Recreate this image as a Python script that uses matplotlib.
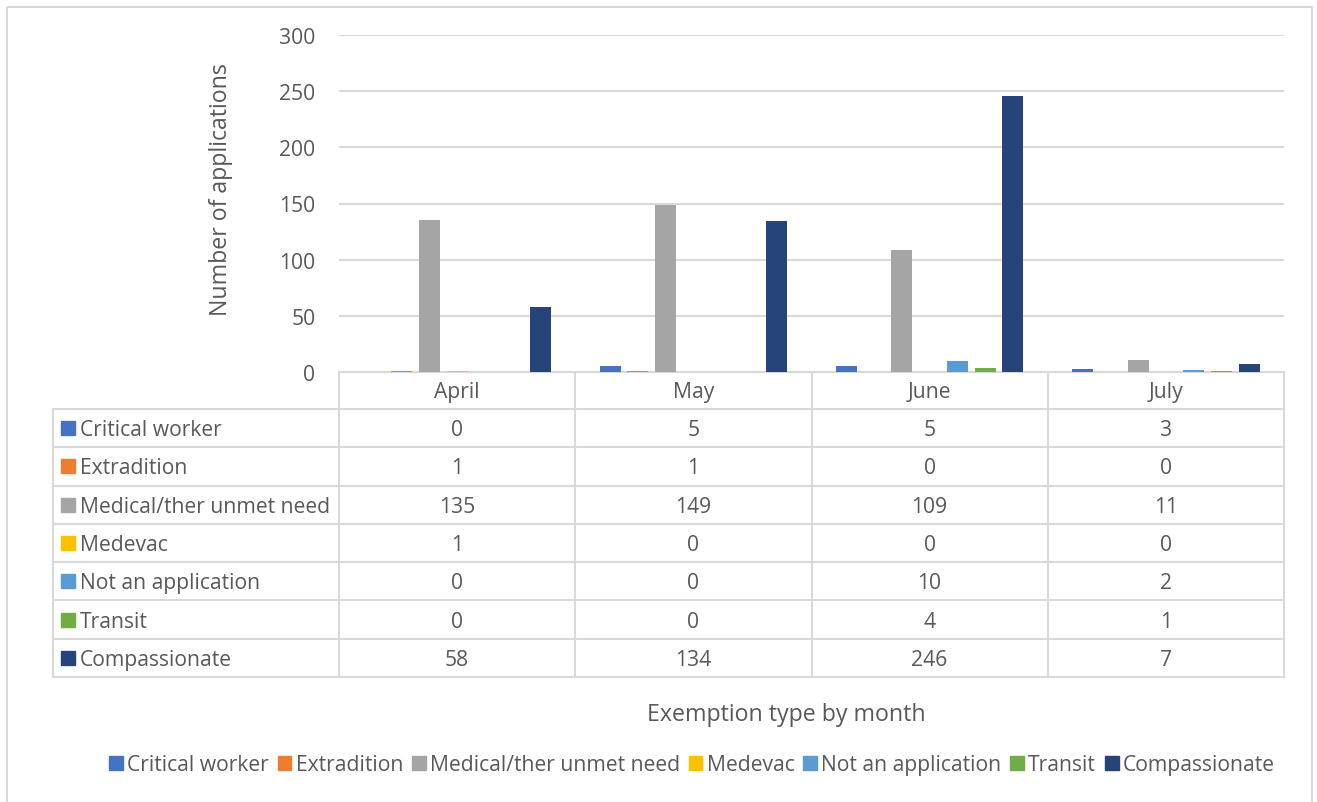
import numpy as np
import matplotlib.pyplot as plt
from matplotlib.patches import Rectangle

months = ["April", "May", "June", "July"]
series_names = ["Critical worker", "Extradition", "Medical/ther unmet need", "Medevac",
                "Not an application", "Transit", "Compassionate"]
critical = [0, 5, 5, 3]
extradition = [1, 1, 0, 0]
medical = [135, 149, 109, 11]
medevac = [1, 0, 0, 0]
not_app = [0, 0, 10, 2]
transit = [0, 0, 4, 1]
compassionate = [58, 134, 246, 7]
series = [critical, extradition, medical, medevac, not_app, transit, compassionate]
colors = ["#4472C4", "#ED7D31", "#A5A5A5", "#FFC000", "#5B9BD5", "#70AD47", "#264478"]

FONT = "Open Sans"
FS = 15.2
TXT = "#595959"
GRID = "#d9d9d9"
W, H = 1317, 803

plt.rcParams['font.family'] = [FONT, 'DejaVu Sans']

fig = plt.figure(figsize=(W / 100, H / 100), dpi=100)

# pixel layout (from reference)
px_left, px_right = 339, 1284
px_top, px_base = 36, 373
tab_left = 53
hdr_bot = 410
row_h = (678 - 410) / 7

# overlay axes in pixel coordinates for table / border
ov = fig.add_axes([0, 0, 1, 1])
ov.set_xlim(0, W)
ov.set_ylim(H, 0)
ov.axis("off")
ov.add_patch(Rectangle((6.5, 7.5), 1305.5, 810, fill=False, ec=GRID, lw=1.5))

ax = fig.add_axes([px_left / W, 1 - px_base / H, (px_right - px_left) / W, (px_base - px_top) / H])
n = len(series)
slot = 0.1175
bw = 0.089
x = np.arange(len(months))
for i, (vals, c) in enumerate(zip(series, colors)):
    ax.bar(x + (i - (n - 1) / 2) * slot, vals, width=bw, color=c, zorder=3)
ax.set_xlim(-0.5, len(months) - 0.5)
ax.set_ylim(0, 300)
ax.set_yticks(np.arange(0, 301, 50))
ax.set_xticks([])
ax.grid(axis="y", color=GRID, lw=1.5, zorder=0)
for s in ax.spines.values():
    s.set_visible(False)
ax.tick_params(axis="y", length=0, pad=17, labelsize=FS, labelcolor=TXT)
ax.set_ylabel("Number of applications", fontsize=FS + 1.5, color=TXT)
ax.yaxis.set_label_coords((233 - px_left) / (px_right - px_left), (px_base - 190) / (px_base - px_top))

# table
col_w = (px_right - px_left) / len(months)
col_x = [px_left + k * col_w for k in range(len(months) + 1)]
row_y = [hdr_bot + k * row_h for k in range(n + 1)]
lw_t = 1.5
ov.plot([px_left, px_right], [px_base, px_base], color=GRID, lw=lw_t)
for yy in row_y:
    ov.plot([tab_left, px_right], [yy, yy], color=GRID, lw=lw_t)
for xx in col_x:
    ov.plot([xx, xx], [px_base, row_y[-1]], color=GRID, lw=lw_t)
ov.plot([tab_left, tab_left], [hdr_bot, row_y[-1]], color=GRID, lw=lw_t)

dy = 1.5  # text baseline nudge
for k, m in enumerate(months):
    ov.text(col_x[k] + col_w / 2, (px_base + hdr_bot) / 2 + dy, m, ha="center", va="center",
            fontsize=FS, color=TXT)
for i, (name, vals, c) in enumerate(zip(series_names, series, colors)):
    yc = row_y[i] + row_h / 2
    ov.add_patch(Rectangle((61, yc - 7), 14, 14, color=c))
    ov.text(80, yc + dy, name, ha="left", va="center", fontsize=FS, color=TXT)
    for k, v in enumerate(vals):
        ov.text(col_x[k] + col_w / 2, yc + dy, str(v), ha="center", va="center", fontsize=FS, color=TXT)

ov.text(786, 715, "Exemption type by month", ha="center", va="center",
        fontsize=FS + 1.5, color=TXT)

handles = [Rectangle((0, 0), 1, 1, color=c) for c in colors]
fig.legend(handles, series_names, loc="center", bbox_to_anchor=(692 / W, 1 - 766 / H), ncol=n,
           frameon=False, fontsize=FS, labelcolor=TXT, handlelength=0.65, handleheight=0.65,
           handletextpad=0.2, columnspacing=0.42, borderpad=0)

fig.savefig("out.png", dpi=100)
